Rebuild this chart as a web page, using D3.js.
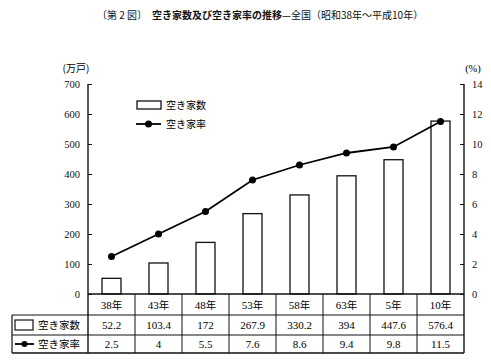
<!DOCTYPE html>
<html><head><meta charset="utf-8">
<script src="https://cdn.jsdelivr.net/npm/d3@7"></script>
<style>
body{margin:0;background:#fff;}
svg{display:block;}
.jp{font-family:"Noto Sans CJK JP","Noto Sans",sans-serif;}
.num{font-family:"Liberation Serif","DejaVu Serif",serif;}
</style></head>
<body>
<svg id="c" width="491" height="360"></svg>
<script>
const categories = ["38年","43年","48年","53年","58年","63年","5年","10年"];
const vacantHouses = [52.2,103.4,172,267.9,330.2,394,447.6,576.4];
const vacancyRate = [2.5,4,5.5,7.6,8.6,9.4,9.8,11.5];
const leftTicks = [0,100,200,300,400,500,600,700];
const rightTicks = [0,2,4,6,8,10,12,14];
const seriesNames = ["空き家数","空き家率"];

const svg = d3.select("#c");
const L = 88, R = 464, T = 84, B = 294;
const x = d3.scaleBand().domain(categories).range([L, R]);
const yL = d3.scaleLinear().domain([0,700]).range([B, T]);
const yR = d3.scaleLinear().domain([0,14]).range([B, T]);

// title
const title = svg.append("text").attr("class","jp").attr("x",97).attr("y",19)
  .attr("font-size",10).attr("fill","#111");
title.append("tspan").text("〔第 2 図〕　");
title.append("tspan").attr("font-weight","bold").text("空き家数及び空き家率の推移");
title.append("tspan").text("—全国（昭和38年～平成10年）");

// unit labels
svg.append("text").attr("class","jp").attr("x",76).attr("y",72).attr("text-anchor","middle")
  .attr("font-size",10).text("(万戸)");
svg.append("text").attr("class","num").attr("x",473).attr("y",72).attr("text-anchor","middle")
  .attr("font-size",10.5).text("(%)");

// left axis
const axL = d3.axisLeft(yL).tickValues(leftTicks).tickSize(-4).tickPadding(8).tickSizeOuter(0);
const gL = svg.append("g").attr("transform",`translate(${L},0)`).call(axL);
gL.select(".domain").remove();
gL.selectAll("text").attr("class","num").attr("font-size",10.5).attr("fill","#111");
gL.selectAll("line").attr("stroke","#111").attr("stroke-width",1);

// right axis
const axR = d3.axisRight(yR).tickValues(rightTicks).tickSize(-4).tickPadding(8).tickSizeOuter(0);
const gR = svg.append("g").attr("transform",`translate(${R},0)`).call(axR);
gR.select(".domain").remove();
gR.selectAll("text").attr("class","num").attr("font-size",10.5).attr("fill","#111");
gR.selectAll("line").attr("stroke","#111").attr("stroke-width",1);

// axis lines
const rowY = [294, 315, 335, 353];
svg.append("line").attr("x1",L).attr("x2",L).attr("y1",T).attr("y2",rowY[3]).attr("stroke","#111").attr("stroke-width",1.4);
svg.append("line").attr("x1",R).attr("x2",R).attr("y1",T).attr("y2",rowY[3]).attr("stroke","#111").attr("stroke-width",1.4);

// bars
const bw = 19;
svg.append("g").selectAll("rect").data(vacantHouses).join("rect")
  .attr("x",(d,i)=>x(categories[i])+x.bandwidth()/2-bw/2)
  .attr("y",d=>yL(d)).attr("width",bw).attr("height",d=>B-yL(d))
  .attr("fill","#fff").attr("stroke","#111").attr("stroke-width",1.3);

// line
const line = d3.line().x((d,i)=>x(categories[i])+x.bandwidth()/2).y(d=>yR(d));
svg.append("path").datum(vacancyRate).attr("d",line).attr("fill","none")
  .attr("stroke","#000").attr("stroke-width",1.8);
svg.append("g").selectAll("circle").data(vacancyRate).join("circle")
  .attr("cx",(d,i)=>x(categories[i])+x.bandwidth()/2).attr("cy",d=>yR(d)).attr("r",3.5).attr("fill","#000");

// legend
svg.append("rect").attr("x",137).attr("y",101).attr("width",24).attr("height",8)
  .attr("fill","#fff").attr("stroke","#111").attr("stroke-width",1.3);
svg.append("text").attr("class","jp").attr("x",166).attr("y",109).attr("font-size",10).text(seriesNames[0]);
svg.append("line").attr("x1",136).attr("x2",161).attr("y1",124).attr("y2",124).attr("stroke","#000").attr("stroke-width",1.8);
svg.append("circle").attr("cx",148.5).attr("cy",124).attr("r",3.5).attr("fill","#000");
svg.append("text").attr("class","jp").attr("x",166).attr("y",128).attr("font-size",10).text(seriesNames[1]);

// table
const TL = 12;
const tg = svg.append("g");
tg.append("line").attr("x1",L).attr("x2",R).attr("y1",rowY[0]).attr("y2",rowY[0]).attr("stroke","#111").attr("stroke-width",1.4);
[1,2].forEach(k=>tg.append("line").attr("x1",TL).attr("x2",R).attr("y1",rowY[k]).attr("y2",rowY[k]).attr("stroke","#111").attr("stroke-width",1));
tg.append("line").attr("x1",TL).attr("x2",R).attr("y1",rowY[3]).attr("y2",rowY[3]).attr("stroke","#111").attr("stroke-width",1.6);
tg.append("line").attr("x1",TL).attr("x2",TL).attr("y1",rowY[1]).attr("y2",rowY[3]).attr("stroke","#111").attr("stroke-width",1.2);
categories.slice(1).forEach(c=>tg.append("line").attr("x1",x(c)).attr("x2",x(c)).attr("y1",rowY[0]).attr("y2",rowY[3]).attr("stroke","#111").attr("stroke-width",1));
const cx = c=>x(c)+x.bandwidth()/2;
tg.selectAll("text.cat").data(categories).join("text").attr("class","num cat")
  .attr("x",d=>cx(d)).attr("y",(rowY[0]+rowY[1])/2+4).attr("text-anchor","middle").attr("font-size",11)
  .html(d=>{const m=d.match(/^(\d+)(.*)$/);return m[1]+'<tspan font-family="Noto Sans CJK JP" font-size="10.5">'+m[2]+'</tspan>';});
tg.selectAll("text.v1").data(vacantHouses).join("text").attr("class","num v1")
  .attr("x",(d,i)=>cx(categories[i])).attr("y",(rowY[1]+rowY[2])/2+4).attr("text-anchor","middle").attr("font-size",11)
  .text(d=>d);
tg.selectAll("text.v2").data(vacancyRate).join("text").attr("class","num v2")
  .attr("x",(d,i)=>cx(categories[i])).attr("y",(rowY[2]+rowY[3])/2+4).attr("text-anchor","middle").attr("font-size",11)
  .text(d=>d);
tg.append("rect").attr("x",15).attr("y",320).attr("width",18).attr("height",10)
  .attr("fill","#fff").attr("stroke","#111").attr("stroke-width",1.2);
tg.append("text").attr("class","jp").attr("x",38).attr("y",329).attr("font-size",10.5).text(seriesNames[0]);
tg.append("line").attr("x1",15).attr("x2",34).attr("y1",344).attr("y2",344).attr("stroke","#000").attr("stroke-width",1.8);
tg.append("circle").attr("cx",24.5).attr("cy",344).attr("r",3).attr("fill","#000");
tg.append("text").attr("class","jp").attr("x",38).attr("y",348).attr("font-size",10.5).text(seriesNames[1]);
</script>
</body></html>
